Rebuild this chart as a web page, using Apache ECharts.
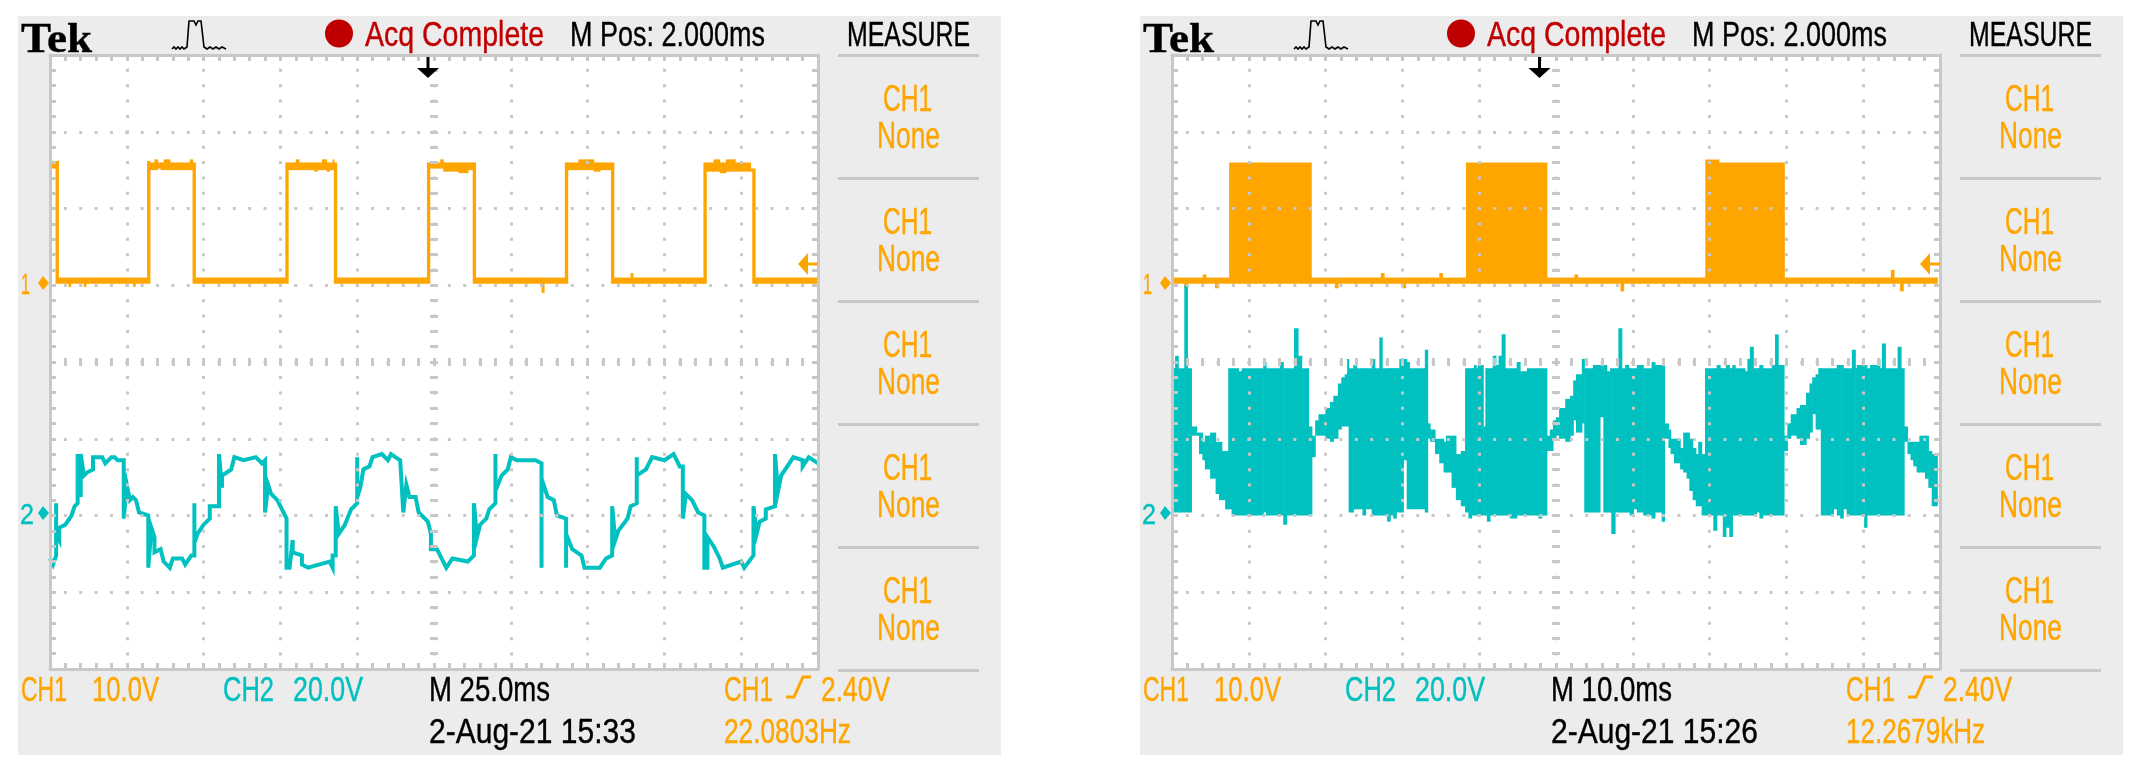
<!doctype html>
<html>
<head>
  <meta charset="utf-8">
  <title>Tek scope captures</title>
  <script src="https://cdn.jsdelivr.net/npm/echarts@6/dist/echarts.min.js"></script>
  <style>
    html, body { margin: 0; padding: 0; background: #fff; }
    #main { width: 2140px; height: 776px; }
  </style>
</head>
<body>
<div id="main"></div>
<script>
// x is the display column (25 per division), y the display level (25 per division, 0 = centre)

// left capture, CH1 filled columns: [from column, top level, bottom level], last row only ends the list
var ch1A = [[0,65.5,63],[1.8,65.5,25.5],[2.7,27.5,25.5],[6,27.5,24.5],[6.7,27.5,25.5],[11,27.5,24.5],[11.7,27.5,25.5],[27,27.5,24.5],[27.7,27.5,25.5],[31.6,65.5,25.5],[32.5,65,62.5],[34,66,62.5],[35,65,63],[36,65,62.5],[37,66,62.5],[39,65,62.5],[45.5,66,62.5],[46.4,65,25.5],[47.3,27.5,25.5],[76.6,65,25.5],[77.5,65,62.5],[80,66,62.5],[81,65,62.5],[86,65,62],[87,65,62.5],[88.5,66,62.5],[90,65,62],[91,65,62.5],[92,66,62.5],[92.4,65,25.5],[93.3,27.5,25.5],[122.7,65,25.5],[123.6,65,63],[127,66,63],[128,65,62],[133,65,61.5],[136,65,62.5],[137.6,65,25.5],[138.5,27.5,25.5],[160,27.5,22.5],[160.8,27.5,25.5],[167.6,65,25.5],[168.5,65,62.5],[172,66,62.5],[177,65,62],[179,65,62.5],[182.6,65,25.5],[183.5,27.5,25.5],[189,29,25.5],[189.7,27.5,25.5],[212.7,65,25.5],[213.6,65,62],[216,66,62],[218,65,61.5],[220,66,62],[223,65,62],[228,63,62],[228.6,63,25.5],[229.5,27.5,25.5],[249.5,27.5,25.5]];

// left capture, CH2 trace: [column, level]
var ch2A = [[0,-64],[1,-66],[2,-63],[2,-46],[2,-56],[3,-58],[3,-54],[5,-53],[7,-50],[8,-47],[9,-46],[9,-30],[10,-44],[10,-30],[11,-37],[12,-36],[14,-35],[14,-31],[17,-31],[18,-33],[20,-31],[21,-31],[22,-32],[24,-32],[24,-51],[25,-40],[26,-45],[27,-44],[28,-45],[29,-49],[32,-50],[32,-67],[33,-54],[34,-57],[34,-62],[36,-61],[37,-65],[39,-67],[40,-64],[43,-64],[44,-66],[46,-63],[47,-63],[47,-46],[47,-59],[48,-56],[50,-53],[52,-51],[52,-47],[55,-47],[55,-30],[56,-41],[56,-37],[59,-35],[60,-31],[63,-32],[67,-31],[69,-33],[70,-32],[70,-49],[71,-40],[72,-43],[74,-45],[76,-49],[77,-51],[77,-67],[78,-67],[79,-58],[79,-62],[82,-63],[82,-66],[84,-67],[91,-65],[92,-67],[92,-63],[93,-63],[93,-47],[94,-56],[96,-53],[98,-48],[100,-46],[100,-31],[100,-44],[101,-41],[102,-35],[104,-34],[105,-31],[108,-30],[110,-32],[111,-30],[114,-32],[115,-49],[116,-40],[117,-44],[119,-44],[120,-49],[123,-52],[124,-56],[124,-61],[126,-61],[128,-65],[129,-67],[131,-64],[136,-65],[138,-63],[138,-46],[139,-57],[140,-53],[142,-51],[143,-48],[145,-46],[145,-30],[145,-42],[147,-37],[149,-35],[150,-31],[152,-32],[155,-32],[158,-32],[160,-33],[160,-67],[160,-38],[162,-44],[164,-45],[165,-50],[168,-51],[168,-67],[168,-56],[170,-61],[173,-63],[174,-67],[179,-67],[181,-64],[183,-63],[183,-47],[184,-58],[185,-55],[188,-51],[189,-47],[191,-46],[191,-31],[191,-37],[194,-35],[196,-31],[200,-32],[203,-30],[205,-34],[206,-34],[206,-51],[207,-43],[209,-45],[211,-49],[213,-50],[213,-67],[214,-67],[214,-57],[216,-60],[218,-64],[219,-67],[225,-65],[226,-67],[229,-63],[229,-47],[230,-56],[231,-52],[233,-51],[233,-48],[236,-47],[236,-30],[237,-42],[238,-37],[240,-34],[242,-31],[245,-32],[245,-34],[247,-31],[250,-33]];

// right capture, PWM fills the columns, same row layout as ch1A
var ch1B = [[0,27.5,25.5],[4,27.5,24],[5,27.5,25.5],[10,28.5,25.5],[11,27.5,25.5],[14,27.5,24],[15,27.5,25.5],[18.6,65,25.5],[45.3,27.5,25.5],[53,27.5,24],[54,27.5,25.5],[68,29,25.5],[69,27.5,25.5],[75,27.5,24],[76,27.5,25.5],[87,29,25.5],[88,27.5,25.5],[95.7,65,25.5],[122,27.5,25.5],[131,28.5,25.5],[132,27.5,25.5],[146,27.5,23],[147,27.5,25.5],[173.6,66,25.5],[178,65,25.5],[199.3,27.5,25.5],[234,30,25.5],[235,27.5,25.5],[237,27.5,23],[238,27.5,25.5],[249.1,27.5,25.5]];
var ch2B = [[0,-2,-49],[1,2,-49],[2,-2,-49],[4,25,-49],[5,-2,-49],[6.3,-21,-24],[8,-23,-24],[8.8,-23,-30],[9.9,-26,-32],[10.7,-24,-35],[12.4,-23,-38],[14.2,-26,-43],[15.3,-26,-45],[16.2,-29,-45],[17.3,-29,-48],[18.3,-2,-48],[19.4,-2,-50],[21.6,-3,-50],[22.7,-2,-50],[29.7,0,-49],[30.6,-2,-50],[35.1,0,-50],[36.2,-2,-53],[37.3,-2,-50],[39.7,11,-50],[41,2,-50],[42.2,-2,-50],[44.4,-21,-50],[45.5,-24,-31],[46.6,-19,-24],[47.7,-17,-24],[49.9,-15,-25],[51.4,-13,-26],[52.5,-11,-25],[54,-7,-22],[55.1,-5,-21],[56.2,-4,-21],[57,1,-21],[57.5,-2,-49],[59,-1,-48],[60,-2,-48],[62,-2,-50],[63,-2,-48],[65,1,-50],[66,-2,-50],[67.5,8,-50],[68.4,-2,-50],[70,-2,-52],[71,-2,-50],[72,-2,-51],[73,-2,-49],[74,1,-49],[75.3,1,-32],[76.4,0,-48],[77.3,-2,-48],[82.3,4,-49],[83.2,-20,-25],[84,-22,-26],[85.6,-25,-30],[87,-25,-33],[88.4,-26,-36],[89.2,-24,-36],[91,-24,-41],[92.4,-30,-45],[94,-29,-47],[95.4,-2,-49],[96.5,-2,-51],[97.5,-2,-50],[98.3,-1,-50],[99,-2,-50],[99.5,-1,-50],[101.3,-21,-50],[102,-2,-50],[102.5,-2,-52],[103.5,-2,-50],[104.4,2,-50],[105.4,-1,-50],[106.3,2,-50],[107.3,9,-50],[108.4,-2,-50],[110,-2,-51],[112.2,0,-50],[113.3,-3,-50],[115.5,-2,-50],[119.3,-2,-51],[120.3,-2,-50],[122,-24,-29],[123,-22,-29],[124,-19,-25],[125,-18,-24],[126,-15,-25],[128,-12,-26],[129.6,-11,-24],[130.6,-6,-19],[131.5,-4,-23],[133.4,1,-20],[134.2,-2,-49],[137,-1,-49],[139.3,-1,-18],[140.4,-1,-49],[141.5,-3,-49],[142.6,-2,-49],[143,-2,-56],[144.2,-2,-49],[145.3,11,-49],[146.4,-2,-49],[147.5,-1,-49],[148.6,-2,-49],[149,-2,-50],[150.2,-2,-48],[151.3,-1,-49],[153.4,-2,-50],[156.1,0,-51],[157.2,-1,-49],[159.4,-1,-52],[160.3,-20,-25],[161.6,-22,-28],[162.3,-25,-30],[163.4,-25,-33],[165.4,-28,-35],[166.4,-23,-36],[167.5,-23,-38],[168.4,-25,-42],[169.5,-28,-45],[170.5,-30,-47],[171.3,-26,-47],[172.4,-30,-50],[173.5,-2,-50],[176.2,-2,-55],[177.3,-1,-50],[178.4,-2,-50],[179.3,-2,-57],[180.3,-1,-54],[181.4,-2,-57],[182.4,-1,-50],[183.3,-2,-50],[186.5,-3,-50],[187.3,1,-50],[188.1,5,-50],[189.2,-2,-50],[190.3,-2,-49],[191.2,-1,-51],[192.3,-2,-50],[195.2,-1,-50],[196.3,9,-50],[197.3,-1,-50],[199.2,-24,-29],[200.3,-20,-25],[201.4,-17,-24],[203.3,-15,-25],[204.4,-14,-27],[206.4,-10,-25],[207.5,-7,-23],[208.4,-5,-17],[209.5,-4,-22],[210.4,-2,-22],[211.2,-2,-50],[215.3,-2,-48],[216.4,-1,-50],[217.5,-1,-51],[218.5,-2,-48],[219.6,-2,-50],[221.3,4,-50],[222.4,-2,-50],[222.9,-1,-50],[225.3,-1,-54],[226.2,-2,-50],[227.2,-1,-50],[229.5,1,-50],[230.4,-2,-50],[231.1,6,-50],[232.2,-2,-50],[236.2,5,-50],[237.3,-2,-50],[238.3,-21,-26],[239.4,-26,-30],[240.4,-26,-32],[241.3,-26,-34],[242.4,-26,-36],[243.3,-24,-36],[245.1,-24,-38],[246.2,-29,-41],[247.3,-30,-47],[249.1,-30,-47]];

// texts of the two screens
var timeBase = ['M 25.0ms', 'M 10.0ms'];
var stamp = ['2-Aug-21 15:33', '2-Aug-21 15:26'];
var freq = ['22.0803Hz', '12.2679kHz'];
var freqWidth = [127, 139];

var ORANGE = '#ffa500', TEAL = '#00c0c0', RED = '#c00000', GRID = '#c8c8c8';
var panelLeft = [50, 1172];
var triggerX = [428, 1539.5];
var plotW = 768, plotH = 614, plotTop = 55;

var chart = echarts.init(document.getElementById('main'));
var ctx = document.createElement('canvas').getContext('2d');

function label(s, x, capTop, w, capH, fill, family, weight) {
  var fs = capH / 0.68;
  var font = (weight || 'normal') + ' ' + fs + 'px ' + (family || '"Liberation Sans"');
  ctx.font = font;
  return {
    type: 'text', x: x, y: capTop - fs * 0.04, scaleX: w / ctx.measureText(s).width, silent: true, z: 20,
    style: { text: s, font: font, fill: fill, stroke: fill, lineWidth: 0.4, verticalAlign: 'top', align: 'left' }
  };
}
function poly(points, color, width) {
  return { type: 'polyline', silent: true, z: 20, shape: { points: points }, style: { stroke: color, lineWidth: width, fill: null } };
}
function shape(points, color) {
  return { type: 'polygon', silent: true, z: 20, shape: { points: points }, style: { fill: color } };
}

function panelGraphics(i) {
  var d = panelLeft[i] - 50, t = triggerX[i], out = [];
  out.push({ type: 'rect', silent: true, z: -5, shape: { x: 18 + d, y: 16, width: 983, height: 739 }, style: { fill: '#ececec' } });
  out.push(label('Tek', 21 + d, 21, 71, 29, '#000', '"Liberation Serif"', 'bold'));
  // acquisition icon
  out.push(poly([[172 + d, 49], [174 + d, 47], [176 + d, 49], [178 + d, 47], [180 + d, 49], [182 + d, 47], [184 + d, 49], [187 + d, 47], [189 + d, 21], [194 + d, 21], [196 + d, 25], [198 + d, 21], [201 + d, 21], [204 + d, 47], [207 + d, 49], [210 + d, 47], [213 + d, 49], [216 + d, 47], [219 + d, 49], [222 + d, 47], [226 + d, 49]], '#000', 1.6));
  out.push({ type: 'circle', silent: true, z: 20, shape: { cx: 339 + d, cy: 33.5, r: 14 }, style: { fill: '#bf0000' } });
  out.push(label('Acq Complete', 365 + d, 20, 179, 24, RED));
  out.push(label('M Pos: 2.000ms', 570 + d, 20, 195, 24, '#000'));
  out.push(label('MEASURE', 847 + d, 20, 123, 24, '#000'));
  // measure menu
  for (var k = 0; k < 6; k++) {
    out.push({ type: 'rect', silent: true, z: 20, shape: { x: 838 + d, y: 54 + k * 123, width: 141, height: 3 }, style: { fill: GRID } });
    if (k < 5) {
      out.push(label('CH1', 883 + d, 84 + k * 123, 49, 25, ORANGE));
      out.push(label('None', 877 + d, 121 + k * 123, 63, 25, ORANGE));
    }
  }
  // bottom readouts
  out.push(label('CH1', 21 + d, 675, 46, 24, ORANGE));
  out.push(label('10.0V', 92 + d, 675, 67, 24, ORANGE));
  out.push(label('CH2', 223 + d, 675, 51, 24, TEAL));
  out.push(label('20.0V', 293 + d, 675, 70, 24, TEAL));
  out.push(label(timeBase[i], 429 + d, 675, 121, 24, '#000'));
  out.push(label('CH1', 724 + d, 675, 49, 24, ORANGE));
  out.push(poly([[786 + d, 697], [794 + d, 697], [803 + d, 677], [811 + d, 677]], ORANGE, 3));
  out.push(label('2.40V', 821 + d, 675, 69, 24, ORANGE));
  out.push(label(stamp[i], 429 + d, 717, 207, 24, '#000'));
  out.push(label(freq[i], 724 + d, 717, freqWidth[i], 24, ORANGE));
  // channel markers
  out.push(label('1', 21 + d, 273, 9, 20, ORANGE));
  out.push(shape([[38 + d, 283], [43 + d, 276], [49 + d, 283], [43 + d, 290]], ORANGE));
  out.push(label('2', 20 + d, 503, 14, 20, TEAL));
  out.push(shape([[38 + d, 513], [43 + d, 506], [49 + d, 513], [43 + d, 520]], TEAL));
  // trigger markers
  out.push(shape([[t - 11, 68], [t + 11, 68], [t, 78]], '#000'));
  out.push({ type: 'rect', silent: true, z: 20, shape: { x: t - 1.5, y: 57, width: 3, height: 12 }, style: { fill: '#000' } });
  out.push(shape([[798 + d, 264], [808 + d, 253], [808 + d, 275]], ORANGE));
  out.push({ type: 'rect', silent: true, z: 20, shape: { x: 806 + d, y: 262.5, width: 12, height: 3 }, style: { fill: ORANGE } });
  return out;
}

function axisCommon(extra) {
  return Object.assign({
    type: 'value', z: 10, silent: true,
    axisLabel: { show: false },
    axisLine: { show: true, onZero: false, lineStyle: { color: GRID, width: 3 } },
    axisTick: { show: true, inside: true, length: 6, lineStyle: { color: GRID, width: 3 } },
    minorTick: { show: true, splitNumber: 5, length: 6, lineStyle: { color: GRID, width: 3 } },
    splitLine: { show: false }, minorSplitLine: { show: false }
  }, extra);
}
function dots() {
  return { show: true, lineStyle: { color: GRID, width: 3, type: [3, 12.36], dashOffset: 1.5 } };
}
function centre(inside) {
  return {
    axisLine: { show: false, onZero: false },
    axisTick: { show: true, inside: inside, length: 4, lineStyle: { color: GRID, width: 3 } },
    minorTick: { show: true, splitNumber: 5, length: 4, lineStyle: { color: GRID, width: 3 } }
  };
}

var grids = [], xAxes = [], yAxes = [];
panelLeft.forEach(function (left, i) {
  grids.push({ left: left, top: plotTop, width: plotW, height: plotH, show: true, backgroundColor: '#fff', borderWidth: 0 });
  var xb = { gridIndex: i, min: 0, max: 250, interval: 25 };
  var yb = { gridIndex: i, min: -100, max: 100, interval: 25 };
  xAxes.push(axisCommon(Object.assign({}, xb, { position: 'bottom', splitLine: dots() })));
  xAxes.push(axisCommon(Object.assign({}, xb, { position: 'top' })));
  xAxes.push(axisCommon(Object.assign({}, xb, { position: 'bottom', offset: -plotH / 2 }, centre(true))));
  xAxes.push(axisCommon(Object.assign({}, xb, { position: 'bottom', offset: -plotH / 2 }, centre(false))));
  yAxes.push(axisCommon(Object.assign({}, yb, { position: 'left', splitLine: dots() })));
  yAxes.push(axisCommon(Object.assign({}, yb, { position: 'right' })));
  yAxes.push(axisCommon(Object.assign({}, yb, { position: 'left', offset: -plotW / 2 }, centre(true))));
  yAxes.push(axisCommon(Object.assign({}, yb, { position: 'left', offset: -plotW / 2 }, centre(false))));
});

function traceLine(data, color, gridNo) {
  return {
    type: 'line', data: data, xAxisIndex: gridNo * 4, yAxisIndex: gridNo * 4,
    showSymbol: false, silent: true, animation: false,
    lineStyle: { color: color, width: 4, join: 'miter' }
  };
}
function traceFill(rows, color, gridNo) {
  var data = [];
  for (var i = 0; i < rows.length - 1; i++) {
    data.push([rows[i][0], rows[i + 1][0], rows[i][1], rows[i][2]]);
  }
  return {
    type: 'custom', data: data, xAxisIndex: gridNo * 4, yAxisIndex: gridNo * 4,
    silent: true, animation: false, encode: { x: [0, 1], y: [2, 3] },
    renderItem: function (params, api) {
      var a = api.coord([api.value(0), api.value(2)]);
      var b = api.coord([api.value(1), api.value(3)]);
      return { type: 'rect', shape: { x: a[0], y: a[1], width: b[0] - a[0] + 0.6, height: b[1] - a[1] }, style: { fill: color } };
    }
  };
}

chart.setOption({
  animation: false,
  backgroundColor: '#fff',
  grid: grids,
  xAxis: xAxes,
  yAxis: yAxes,
  graphic: { elements: panelGraphics(0).concat(panelGraphics(1)) },
  series: [
    traceFill(ch1A, ORANGE, 0),
    traceLine(ch2A, TEAL, 0),
    traceFill(ch1B, ORANGE, 1),
    traceFill(ch2B, TEAL, 1)
  ]
});
</script>
</body>
</html>
